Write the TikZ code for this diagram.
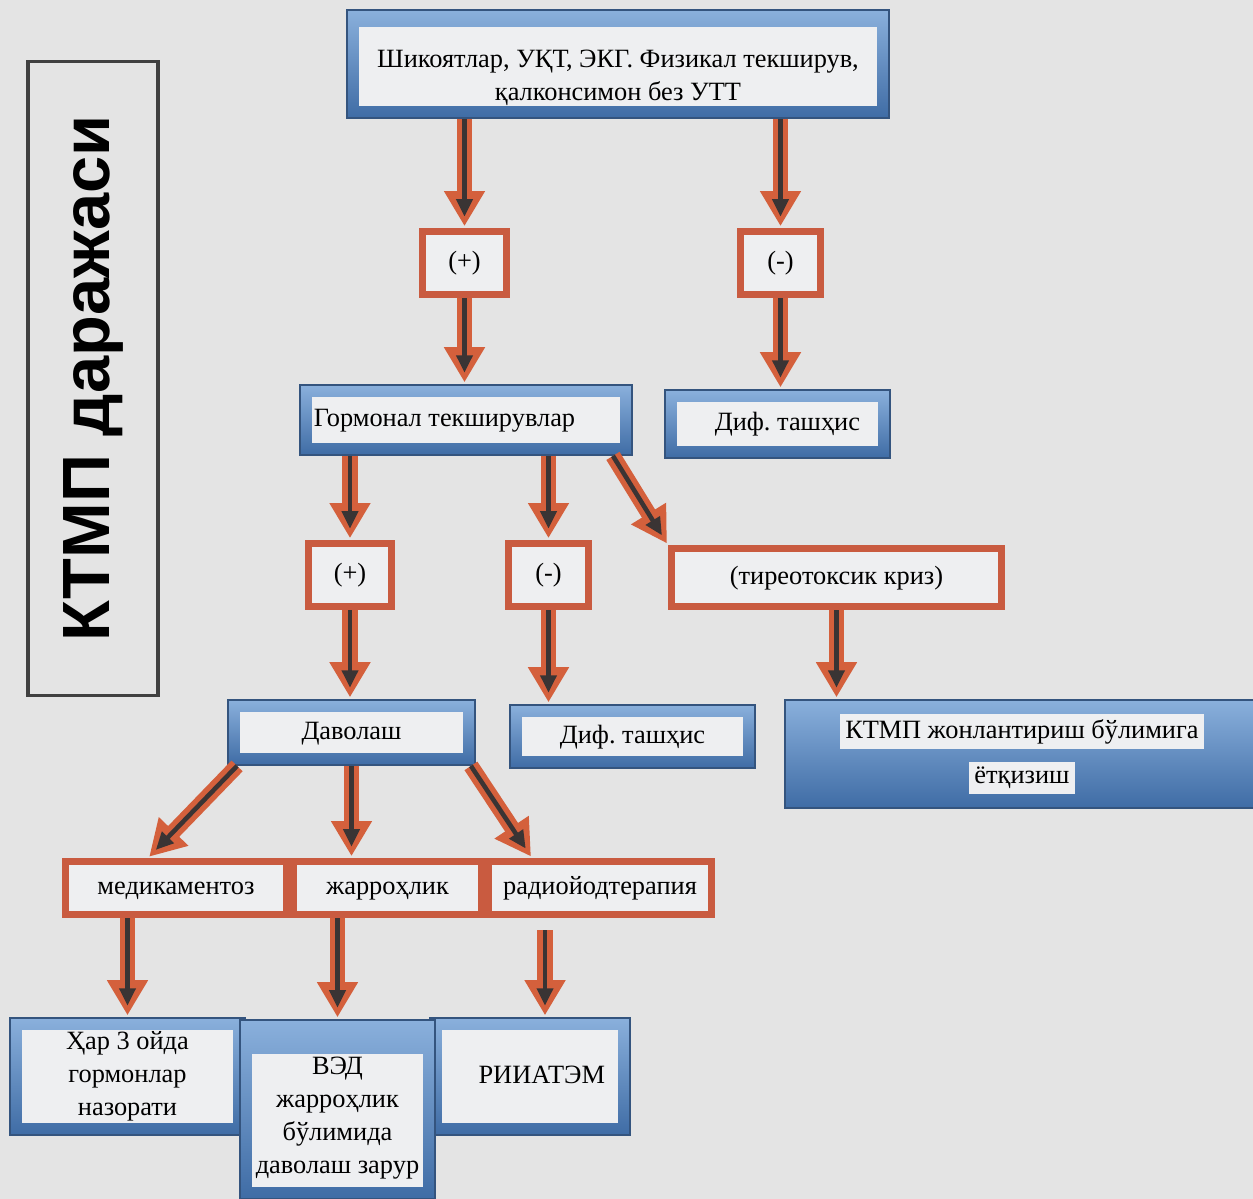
\documentclass[tikz,border=0pt]{standalone}
\usepackage{fontspec}
\setmainfont{Liberation Serif}
\newfontfamily\sidefont{Liberation Sans}
\usetikzlibrary{arrows.meta}
\definecolor{pagegray}{HTML}{E4E4E4}
\definecolor{innerfill}{HTML}{EEEFF1}
\definecolor{frametop}{HTML}{8AB0DC}
\definecolor{framebot}{HTML}{3F6CA5}
\definecolor{frameedge}{HTML}{34547E}
\definecolor{boxred}{HTML}{C95B40}
\definecolor{arrowred}{HTML}{D4603C}
\definecolor{arrowcore}{HTML}{3A3434}
\tikzset{
  boxtext/.style={font=\fontsize{7.5}{9.4}\selectfont\frenchspacing, align=center, inner sep=0pt},
  oneline/.style={text height=5.2pt, text depth=1.4pt},
  bluebox/.style={rectangle, boxtext, draw=frameedge, line width=0.5pt,
    top color=frametop, bottom color=framebot,
    path picture={\fill[innerfill] ([xshift=0.12cm,yshift=-#1]path picture bounding box.north west)
      rectangle ([xshift=-0.12cm,yshift=0.12cm]path picture bounding box.south east);}},
  bluebox/.default=0.12cm,
  bluepanel/.style={rectangle, boxtext, draw=frameedge, line width=0.5pt,
    top color=frametop, bottom color=framebot},
  redbox/.style={rectangle, boxtext, oneline, draw=boxred, line width=2pt, fill=innerfill},
  bigarrow/.style={draw=arrowcore, line width=1.3pt, -{Triangle[length=5pt,width=4.5pt]},
    shorten >=3.2pt,
    preaction={draw=arrowred, line width=4.4pt, -{Triangle[length=10pt,width=11pt]}, shorten >=0.5pt}}
}
\setlength{\fboxsep}{1.5pt}
\begin{document}
\begin{tikzpicture}[x=0.01cm,y=-0.01cm]
  \fill[pagegray] (0,0) rectangle (1253,1199);
  \useasboundingbox (0,0) rectangle (1253,1199);
  % side label
  \node[draw=black!75, line width=0.9pt, rotate=90, minimum width=6.33cm, minimum height=1.30cm,
    font=\sidefont\bfseries\fontsize{19}{22}\selectfont] (side) at (93,378.5) {КТМП даражаси};
  % first level
  \node[bluebox=0.17cm, minimum width=5.42cm, minimum height=1.08cm] (top) at (618,64)
    {\mbox{}\\[3.6pt]Шикоятлар, УҚТ, ЭКГ. Физикал текширув,\\ қалконсимон без УТТ};
  \node[redbox, minimum width=0.84cm, minimum height=0.63cm] (plusA) at (464.5,263) {(+)};
  \node[redbox, minimum width=0.80cm, minimum height=0.63cm] (minusA) at (780.5,263) {(-)};
  \node[bluebox, oneline, text width=3.04cm, inner xsep=0.14cm, align=flush left, minimum height=0.70cm] (horm) at (466,420)
    {Гормонал текширувлар};
  \node[bluebox, oneline, text width=1.65cm, inner xsep=0.30cm, align=flush right, minimum height=0.68cm] (difA) at (777.5,424)
    {Диф. ташҳис};
  % second level
  \node[redbox, minimum width=0.83cm, minimum height=0.63cm] (plusB) at (350,575) {(+)};
  \node[redbox, minimum width=0.80cm, minimum height=0.63cm] (minusB) at (548.5,575) {(-)};
  \node[redbox, minimum width=3.30cm, minimum height=0.58cm] (tireo) at (836.5,577.5) {(тиреотоксик криз)};
  \node[bluebox, oneline, minimum width=2.47cm, minimum height=0.65cm] (davo) at (351.5,732.5) {Даволаш};
  \node[bluebox, oneline, minimum width=2.45cm, minimum height=0.63cm] (difB) at (632.5,736.5) {Диф. ташҳис};
  \node[bluepanel, minimum width=4.74cm, minimum height=1.08cm] (ktmp) at (1022,754)
    {\colorbox{innerfill}{КТМП жонлантириш бўлимига}\\[3.5pt]\colorbox{innerfill}{ётқизиш}};
  % treatment
  \node[redbox, minimum width=2.21cm, minimum height=0.53cm] (med) at (176,888) {медикаментоз};
  \node[redbox, minimum width=1.88cm, minimum height=0.53cm] (jar) at (387.5,888) {жарроҳлик};
  \node[redbox, minimum width=2.23cm, minimum height=0.53cm] (rad) at (600,888) {радиойодтерапия};
  \node[bluebox, minimum width=2.35cm, minimum height=1.17cm] (har) at (127.5,1076.5)
    {Ҳар 3 ойда\\ гормонлар\\ назорати};
  \node[bluebox, oneline, text width=1.50cm, inner xsep=0.25cm, align=flush right, minimum height=1.17cm] (riiatem) at (530,1076.5)
    {РИИАТЭМ};
  \node[bluebox=0.34cm, minimum width=1.95cm, minimum height=1.79cm] (ved) at (337.5,1109.5)
    {\mbox{}\\[0.6pt]ВЭД\\ жарроҳлик\\ бўлимида\\ даволаш зарур};
  \coordinate (rtop) at ([xshift=0.15cm]riiatem.north);
  % arrows
  \draw[bigarrow] (top.south -| plusA) -- (plusA.north);
  \draw[bigarrow] (top.south -| minusA) -- (minusA.north);
  \draw[bigarrow] (plusA.south) -- (plusA.south |- horm.north);
  \draw[bigarrow] (minusA.south) -- (minusA.south |- difA.north);
  \draw[bigarrow] (horm.south -| plusB) -- (plusB.north);
  \draw[bigarrow] (horm.south -| minusB) -- (minusB.north);
  \draw[bigarrow] ([xshift=-0.2cm]horm.south east) -- (tireo.north west);
  \draw[bigarrow] (plusB.south) -- (plusB.south |- davo.north);
  \draw[bigarrow] (minusB.south) -- (minusB.south |- difB.north);
  \draw[bigarrow] (tireo.south) -- (tireo.south |- ktmp.north);
  \draw[bigarrow] ([xshift=0.1cm]davo.south west) -- ([xshift=-0.28cm]med.north);
  \draw[bigarrow] (davo.south) -- (davo.south |- jar.north);
  \draw[bigarrow] ([xshift=-0.05cm]davo.south east) -- ([xshift=-0.68cm]rad.north);
  \draw[bigarrow] (har.north |- med.south) -- (har.north);
  \draw[bigarrow] (ved.north |- jar.south) -- (ved.north);
  \draw[bigarrow, shorten <=0.12cm] (rtop |- rad.south) -- (rtop);
\end{tikzpicture}
\end{document}
